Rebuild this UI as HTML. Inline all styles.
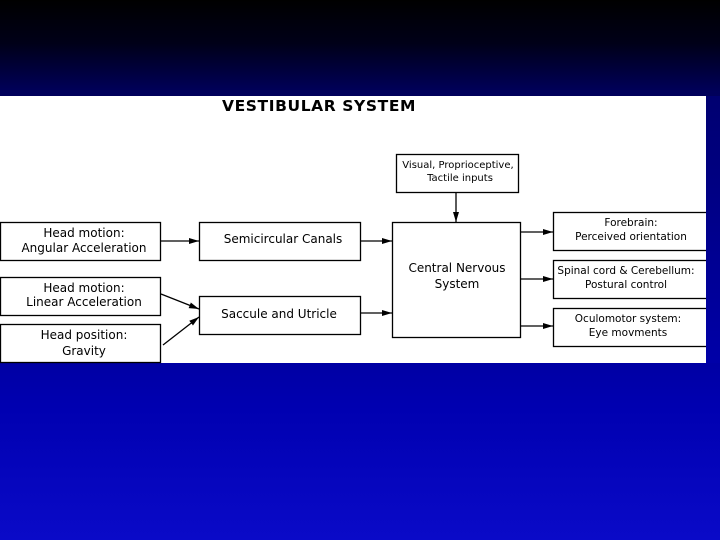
<!DOCTYPE html>
<html><head><style>
body{margin:0;width:720px;height:540px;overflow:hidden;background:linear-gradient(to bottom,#000 0%,#000018 8%,#00005a 17%,#000080 45%,#0000b0 75%,#0a0ac8 100%);font-family:"DejaVu Sans","Liberation Sans",sans-serif;}
</style></head><body>
<svg width="720" height="540" style="position:absolute;left:0;top:0">
<defs><marker id="a" markerWidth="10" markerHeight="8" refX="10" refY="4" orient="auto" markerUnits="userSpaceOnUse"><path d="M0,1 L10,4 L0,7 Z" fill="#000"/></marker>
<linearGradient id="g" x1="0" y1="0" x2="0" y2="1"><stop offset="0" stop-color="#000070"/><stop offset="1" stop-color="#0000a8"/></linearGradient></defs>
<rect x="0" y="96" width="706" height="267" fill="#fff"/>
<g fill="none" stroke="#000" stroke-width="1.3">
<rect x="0.5" y="222.5" width="160" height="38"/>
<rect x="0.5" y="277.5" width="160" height="38"/>
<rect x="0.5" y="324.5" width="160" height="38"/>
<rect x="199.5" y="222.5" width="161" height="38"/>
<rect x="199.5" y="296.5" width="161" height="38"/>
<rect x="392.5" y="222.5" width="128" height="115"/>
<rect x="396.5" y="154.5" width="122" height="38"/>
<rect x="553.5" y="212.5" width="160" height="38"/>
<rect x="553.5" y="260.5" width="160" height="38"/>
<rect x="553.5" y="308.5" width="160" height="38"/>
<line x1="161" y1="241" x2="199" y2="241" marker-end="url(#a)"/>
<line x1="360" y1="241" x2="392" y2="241" marker-end="url(#a)"/>
<line x1="360" y1="313" x2="392" y2="313" marker-end="url(#a)"/>
<line x1="456" y1="192" x2="456" y2="222" marker-end="url(#a)"/>
<line x1="520" y1="232" x2="553" y2="232" marker-end="url(#a)"/>
<line x1="520" y1="279" x2="553" y2="279" marker-end="url(#a)"/>
<line x1="520" y1="326" x2="553" y2="326" marker-end="url(#a)"/>
<line x1="161" y1="294" x2="199" y2="309" marker-end="url(#a)"/>
<line x1="163" y1="345" x2="199" y2="317" marker-end="url(#a)"/>
</g>
<rect x="706" y="96" width="14" height="267" fill="url(#g)"/>
<g font-size="12" text-anchor="middle" fill="#000">
<text x="222" y="111" font-size="15.5" font-weight="bold" letter-spacing="0.6" text-anchor="start">VESTIBULAR SYSTEM</text>
<text x="84" y="237">Head motion:</text><text x="84" y="252">Angular Acceleration</text>
<text x="84" y="292">Head motion:</text><text x="84" y="306">Linear Acceleration</text>
<text x="84" y="339">Head position:</text><text x="84" y="355">Gravity</text>
<text x="283" y="243">Semicircular Canals</text>
<text x="279" y="318">Saccule and Utricle</text>
<text x="457" y="272">Central Nervous</text><text x="457" y="288">System</text>
<text x="458" y="168" font-size="10">Visual, Proprioceptive,</text><text x="460" y="181" font-size="10">Tactile inputs</text>
<text x="631" y="226" font-size="10.5">Forebrain:</text><text x="631" y="240" font-size="10.5">Perceived orientation</text>
<text x="626" y="274" font-size="10.5">Spinal cord &amp; Cerebellum:</text><text x="626" y="288" font-size="10.5">Postural control</text>
<text x="628" y="322" font-size="10.5">Oculomotor system:</text><text x="628" y="336" font-size="10.5">Eye movments</text>
</g>
</svg>
</body></html>
